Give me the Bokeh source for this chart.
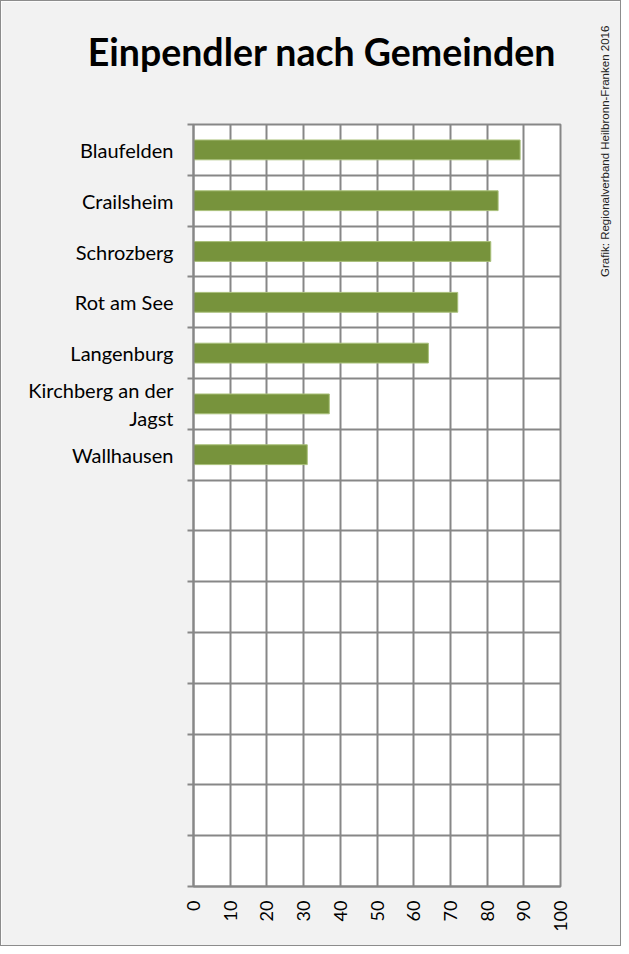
import math
from bokeh.plotting import figure
from bokeh.models import FixedTicker, LinearAxis, Range1d
from bokeh.embed import file_html
from bokeh.resources import INLINE

categories = ["Blaufelden", "Crailsheim", "Schrozberg", "Rot am See", "Langenburg",
              "Kirchberg an der\nJagst", "Wallhausen"]
values = [89, 83, 81, 72, 64, 37, 31]
n_rows = 15
x_ticks = [0, 10, 20, 30, 40, 50, 60, 70, 80, 90, 100]
title_text = "Einpendler nach Gemeinden"
source_text = "Grafik: Regionalverband Heilbronn-Franken 2016"

ypos = [n_rows - 0.5 - i for i in range(len(categories))]

p = figure(width=621, height=946, output_backend="svg", toolbar_location=None,
           x_range=Range1d(0, 100), y_range=Range1d(0, n_rows),
           min_border_left=192, min_border_right=62, min_border_top=123, min_border_bottom=61,
           background_fill_color="white", border_fill_color="#f2f2f2")
p.styles = {"border": "1px solid #8c8c8c", "box-sizing": "border-box"}

p.hbar(y=ypos, right=values, left=0, height=0.39, fill_color="#77933c",
       line_color="#a9c07a", line_width=1)

gray = "#878787"
p.outline_line_color = gray
p.outline_line_width = 2

p.xaxis.ticker = FixedTicker(ticks=x_ticks)
p.xaxis.major_label_orientation = math.pi / 2
p.xaxis.major_label_text_font = "Lato"
p.xaxis.major_label_text_font_size = "18px"
p.xaxis.major_label_text_color = "#000000"
p.xaxis.major_tick_line_color = None
p.xaxis.major_tick_out = 0
p.xaxis.minor_tick_line_color = None
p.xaxis.axis_line_color = gray
p.xaxis.axis_line_width = 2
p.xaxis.major_label_standoff = 14

p.yaxis.ticker = FixedTicker(ticks=ypos, minor_ticks=list(range(n_rows + 1)))
p.yaxis.major_label_overrides = {y: c for y, c in zip(ypos, categories)}
p.yaxis.major_label_text_font = "Lato"
p.yaxis.major_label_text_font_size = "20px"
p.yaxis.major_label_text_color = "#000000"
p.yaxis.major_tick_line_color = None
p.yaxis.major_tick_out = 0
p.yaxis.major_tick_in = 0
p.yaxis.minor_tick_line_color = gray
p.yaxis.minor_tick_line_width = 2
p.yaxis.minor_tick_out = 6
p.yaxis.minor_tick_in = 0
p.yaxis.axis_line_color = gray
p.yaxis.axis_line_width = 2
p.yaxis.major_label_standoff = 14

p.xgrid.ticker = FixedTicker(ticks=x_ticks)
p.ygrid.ticker = FixedTicker(ticks=list(range(n_rows + 1)))
p.xgrid.grid_line_color = gray
p.ygrid.grid_line_color = gray
p.xgrid.grid_line_width = 2
p.ygrid.grid_line_width = 2

# title, set as a single label on an axis above the frame
title_axis = LinearAxis(ticker=FixedTicker(ticks=[35.0]),
                        major_label_overrides={35.0: title_text},
                        major_label_standoff=51,
                        major_label_text_font="Lato", major_label_text_font_style="bold",
                        major_label_text_font_size="37.5px", major_label_text_color="#000000",
                        axis_line_color=None, major_tick_line_color=None,
                        minor_tick_line_color=None, major_tick_out=0, major_tick_in=0)
p.add_layout(title_axis, "above")

# source note as a vertical label on a right-hand axis
src_axis = LinearAxis(ticker=FixedTicker(ticks=[12.0]),
                      major_label_overrides={12.0: source_text},
                      major_label_orientation=math.pi / 2,
                      major_label_standoff=45,
                      major_label_text_font="Liberation Sans",
                      major_label_text_font_size="11.5px",
                      major_label_text_color="#222222",
                      axis_line_color=None, major_tick_line_color=None,
                      minor_tick_line_color=None, major_tick_out=0, major_tick_in=0)
p.add_layout(src_axis, "right")

open("out.html", "w").write(file_html(p, INLINE))
